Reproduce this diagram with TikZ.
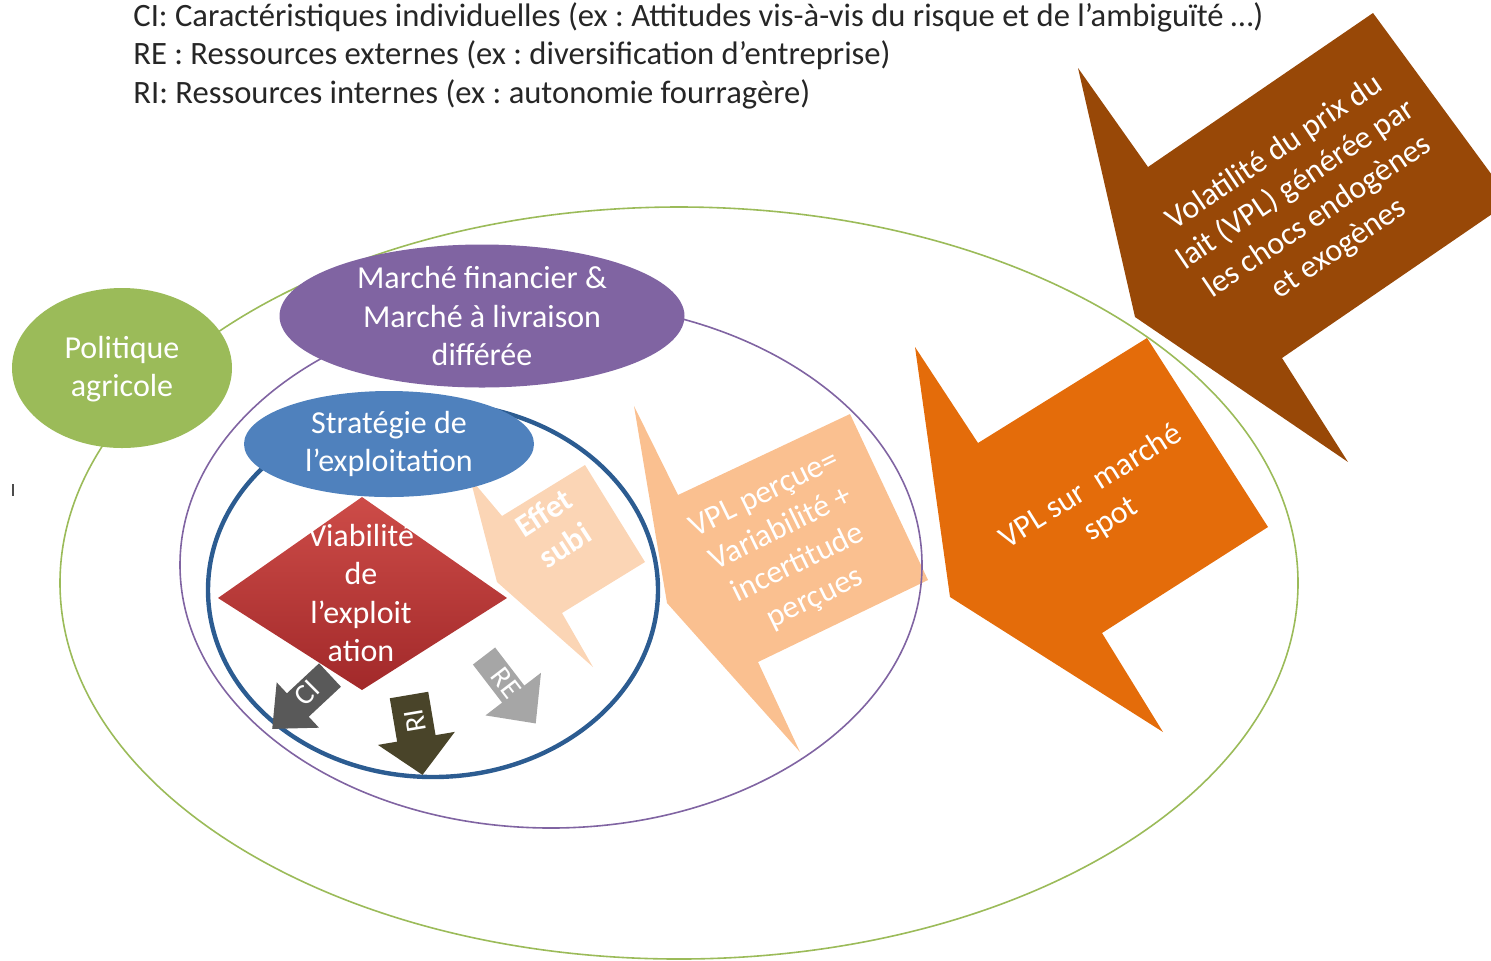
\documentclass[tikz,border=0pt]{standalone}
\usepackage{fontspec}
\setmainfont{Carlito}
\usetikzlibrary{shapes.geometric}
\definecolor{cgreen}{HTML}{9BBB59}
\definecolor{cpurple}{HTML}{8064A2}
\definecolor{cblue}{HTML}{4F81BD}
\definecolor{cdblue}{HTML}{2C5C91}
\definecolor{cbrown}{HTML}{984807}
\definecolor{corange}{HTML}{E46C0A}
\definecolor{clight}{HTML}{FAC090}
\definecolor{clighter}{HTML}{FBD5B5}
\definecolor{cci}{HTML}{595959}
\definecolor{cri}{HTML}{494429}
\definecolor{cre}{HTML}{A6A6A6}
\definecolor{credtop}{HTML}{CD4C48}
\definecolor{credbot}{HTML}{A2292A}
\definecolor{ctext}{HTML}{262626}
\frenchspacing
\begin{document}
\begin{tikzpicture}[x=0.5pt,y=-0.5pt,
  lbl/.style={text=white, align=center, font=\fontsize{16}{19.3}\selectfont, inner sep=0pt},
  legend/.style={anchor=base west, text=ctext, font=\fontsize{16.3}{19.5}\selectfont, inner sep=0pt},
  arrowlbl/.style={text=white, font=\fontsize{14.5}{16}\selectfont, inner sep=0pt},
  thinring/.style={line width=0.8pt}
]
\useasboundingbox (0,0) rectangle (1491,960);
\clip (0,0) rectangle (1491,960);

% outer green ellipse
\draw[cgreen, thinring] (679,583) ellipse [x radius=619, y radius=376];

% perceived VPL callout (below the purple ring)
\fill[clight] (634,406) -- (678,495) -- (850,414) -- (928,580) -- (758,662) -- (800,752) -- (667,603) -- cycle;

% purple ring
\draw[cpurple, thinring] (551,565) ellipse [x radius=371, y radius=263];

% brown callout
\fill[cbrown] (1078,68) -- (1148,167) -- (1373,13) -- (1511,201) -- (1282,358) -- (1348,462) -- (1135,317) -- cycle;
% orange spot callout
\fill[corange] (915,347) -- (978,443) -- (1147,338) -- (1268,527) -- (1102,633) -- (1163,732) -- (950,597) -- cycle;

% Politique agricole and Marché
\fill[cgreen] (122,368) ellipse [x radius=110, y radius=80];
\fill[cpurple] (482,316) ellipse [x radius=202.5, y radius=71.5];

% Effet subi callout
\fill[clighter] (470,478) -- (502,516) -- (585,465) -- (645,562) -- (562,613) -- (593,667) -- (497,582) -- cycle;

% blue ring
\draw[cdblue, line width=2.2pt] (433,590) ellipse [x radius=225, y radius=187];

% Strategie
\fill[cblue] (389,444) ellipse [x radius=145, y radius=53];

% diamond
\shade[top color=credtop, bottom color=credbot] (218,598) -- (362,497) -- (507,598) -- (362,690) -- cycle;

% arrows
\begin{scope}[shift={(330,675)}, rotate=-137]
  \fill[cci] (0,-16) -- (44,-16) -- (44,-31) -- (79,0) -- (44,31) -- (44,16) -- (0,16) -- cycle;
\end{scope}
\begin{scope}[shift={(409,695)}, rotate=-80.4]
  \fill[cri] (0,-19.5) -- (44,-19.5) -- (44,-39) -- (81,0) -- (44,39) -- (44,19.5) -- (0,19.5) -- cycle;
\end{scope}
\begin{scope}[shift={(484,656)}, rotate=-52.5]
  \fill[cre] (0,-14) -- (48,-14) -- (48,-35) -- (85,0) -- (48,35) -- (48,14) -- (0,14) -- cycle;
\end{scope}

% small tick at left edge
\draw[black!70, line width=1pt] (12.5,484) -- (12.5,496);

% texts
\node[legend] (l1) at (133,26) {CI: Caractéristiques individuelles (ex : Attitudes vis-à-vis du risque et de l’ambiguïté …)};
\node[legend] (l2) at (133,64) {RE : Ressources externes (ex : diversification d’entreprise)};
\node[legend] (l3) at (133,103) {RI: Ressources internes (ex : autonomie fourragère)};

\node[lbl] (pol) at (122,369) {Politique\\agricole};
\node[lbl] (mar) at (482,316) {Marché financier \&\\Marché à livraison\\différée};
\node[lbl] (str) at (389,444) {Stratégie de\\l’exploitation};
\node[lbl] (via) at (361,593) {Viabilité\\de\\l’exploit\\ation};
\node[lbl, font=\bfseries\fontsize{16}{19.3}\selectfont, rotate=33] (eff) at (554,529) {Effet\\subi};
\node[lbl, rotate=26] (per) at (790,547) {VPL perçue=\\Variabilité +\\incertitude\\perçues};
\node[lbl, rotate=32] (spot) at (1101,503) {VPL sur\ \ marché\\spot};
\node[lbl, rotate=34] (vol) at (1307,201) {Volatilité du prix du\\lait (VPL) générée par\\les chocs endogènes\\et exogènes};

\node[arrowlbl, rotate=45] (ci) at (307,693) {CI};
\node[arrowlbl, rotate=99.6] (ri) at (415,721) {RI};
\node[arrowlbl, rotate=-52.5] (re) at (506,683) {RE};
\end{tikzpicture}
\end{document}
